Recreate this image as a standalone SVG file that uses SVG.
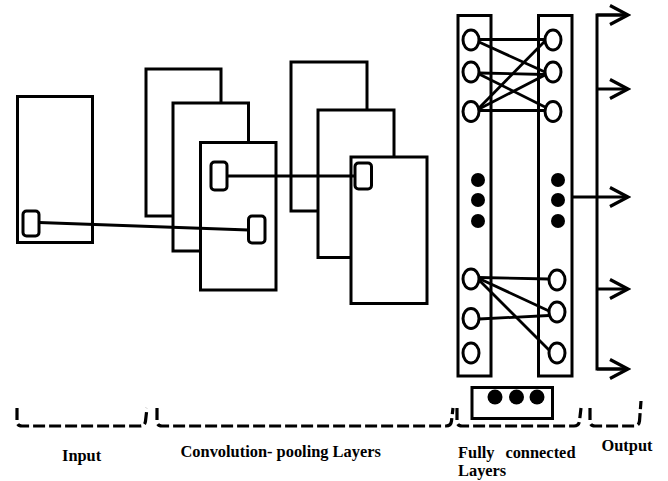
<svg xmlns="http://www.w3.org/2000/svg" width="668" height="481" viewBox="0 0 668 481">
<defs>
<style>
.box{fill:#fff;stroke:#000;stroke-width:3}
.cell{fill:#fff;stroke:#000;stroke-width:3}
.neuron{fill:#fff;stroke:#000;stroke-width:3}
.dot{fill:#000}
.wire{stroke:#000;stroke-width:2.8;fill:none}
.out{stroke:#000;stroke-width:3;fill:none}
.brace{fill:none;stroke:#000;stroke-width:3.2;stroke-dasharray:12 4}
.lbl{font-family:"Liberation Serif","Times New Roman",serif;font-weight:bold;font-size:16.4px;fill:#000}
</style>
<marker id="arr" markerWidth="22" markerHeight="24" refX="19" refY="11" orient="auto" markerUnits="userSpaceOnUse">
<path d="M1,1.5 L19,11 L1,20.5" fill="none" stroke="#000" stroke-width="3.2"/>
</marker>
</defs>
<rect width="668" height="481" fill="#fff"/>

<g id="input-layer">
<rect class="box" x="17.5" y="96.5" width="75" height="146"/>
<rect class="cell" x="23" y="211" width="16" height="25" rx="3.5"/>
</g>

<g id="conv-map-1">
<rect class="box" x="146" y="69" width="75" height="147"/>
</g>
<g id="conv-map-2">
<rect class="box" x="173" y="103" width="75.5" height="148"/>
</g>
<g id="conv-map-3">
<rect class="box" x="200.5" y="142.5" width="75.5" height="147.5"/>
<rect class="cell" x="211" y="162" width="16" height="28" rx="3.5"/>
<rect class="cell" x="248.5" y="216" width="16.5" height="27" rx="3.5"/>
</g>

<g id="pool-map-1">
<rect class="box" x="291" y="62" width="76" height="149"/>
</g>
<g id="pool-map-2">
<rect class="box" x="318" y="110" width="76" height="147.5"/>
</g>
<g id="pool-map-3">
<rect class="box" x="351" y="157" width="76" height="146.5"/>
<rect class="cell" x="355" y="163" width="16.5" height="26" rx="3.5"/>
</g>

<g id="connectors">
<line class="wire" x1="39" y1="222.5" x2="248.5" y2="230"/>
<line class="wire" x1="227" y1="176" x2="355" y2="176"/>
<line class="wire" x1="479" y1="39.5" x2="545" y2="39.5"/>
<line class="wire" x1="479" y1="42" x2="545" y2="72"/>
<line class="wire" x1="479" y1="73" x2="545" y2="74.5"/>
<line class="wire" x1="479" y1="74" x2="545" y2="107"/>
<line class="wire" x1="479" y1="108" x2="545" y2="41"/>
<line class="wire" x1="479" y1="109" x2="545" y2="75"/>
<line class="wire" x1="479" y1="110.5" x2="545" y2="110.5"/>
<line class="wire" x1="479" y1="277.5" x2="548.5" y2="279"/>
<line class="wire" x1="479" y1="278.5" x2="549" y2="311"/>
<line class="wire" x1="479" y1="280" x2="550" y2="351"/>
<line class="wire" x1="479" y1="319" x2="549" y2="315.5"/>
<polyline class="out" points="627,15 597,15 597,369 627,369"/>
<line class="out" x1="597" y1="15" x2="628" y2="15" marker-end="url(#arr)"/>
<line class="out" x1="597" y1="89" x2="628" y2="89" marker-end="url(#arr)"/>
<line class="out" x1="573" y1="197" x2="628" y2="197" marker-end="url(#arr)"/>
<line class="out" x1="597" y1="289" x2="628" y2="289" marker-end="url(#arr)"/>
<line class="out" x1="597" y1="369" x2="628" y2="369" marker-end="url(#arr)"/>
</g>

<g id="fc-layer-1">
<rect class="box" x="458" y="15.5" width="33" height="360.5" style="fill:none"/>
<ellipse class="neuron" cx="471" cy="40" rx="8" ry="10"/>
<ellipse class="neuron" cx="471" cy="72" rx="8" ry="10"/>
<ellipse class="neuron" cx="471" cy="111.5" rx="8" ry="10"/>
<circle class="dot" cx="478" cy="180" r="7"/>
<circle class="dot" cx="478" cy="200" r="7"/>
<circle class="dot" cx="478" cy="221" r="7"/>
<ellipse class="neuron" cx="471" cy="279" rx="8" ry="10"/>
<ellipse class="neuron" cx="471" cy="318.5" rx="8" ry="10"/>
<ellipse class="neuron" cx="471" cy="353" rx="8" ry="10"/>
</g>

<g id="fc-layer-2">
<rect class="box" x="538.5" y="15.5" width="33.5" height="360.5" style="fill:none"/>
<ellipse class="neuron" cx="553" cy="40" rx="8" ry="10"/>
<ellipse class="neuron" cx="553" cy="72" rx="8" ry="10"/>
<ellipse class="neuron" cx="553" cy="111.5" rx="8" ry="10"/>
<circle class="dot" cx="558" cy="180" r="7"/>
<circle class="dot" cx="558" cy="200" r="7"/>
<circle class="dot" cx="558" cy="221" r="7"/>
<ellipse class="neuron" cx="557" cy="280" rx="8" ry="10"/>
<ellipse class="neuron" cx="557" cy="312" rx="8" ry="10"/>
<ellipse class="neuron" cx="557" cy="353" rx="8" ry="10"/>
</g>

<g id="fc-extra">
<rect class="box" x="472" y="387.5" width="80.5" height="31"/>
<circle class="dot" cx="495" cy="397" r="7.5"/>
<circle class="dot" cx="516.5" cy="397" r="7.5"/>
<circle class="dot" cx="537" cy="397" r="7.5"/>
</g>

<g id="braces">
<path class="brace" d="M17,408 V421 Q17,426 22,426 H140 Q145,426 145.5,421 L147,408"/>
<path class="brace" d="M157,408 V421 Q157,426 162,426 H446 Q451,426 451.5,421 L453,408"/>
<path class="brace" d="M457,408 V421 Q457,426 462,426 H574 Q579,426 579.5,421 L581,408"/>
<path class="brace" d="M590,408 V421 Q590,426 595,426 H634 Q639,426 639.5,421 L641,401"/>
</g>

<g id="labels">
<text class="lbl" x="62" y="461">Input</text>
<text class="lbl" x="180.5" y="457">Convolution- pooling Layers</text>
<text class="lbl" x="458" y="458">Fully</text>
<text class="lbl" x="575.5" y="458" text-anchor="end">connected</text>
<text class="lbl" x="458" y="476">Layers</text>
<text class="lbl" x="601.5" y="451">Output</text>
</g>
</svg>
